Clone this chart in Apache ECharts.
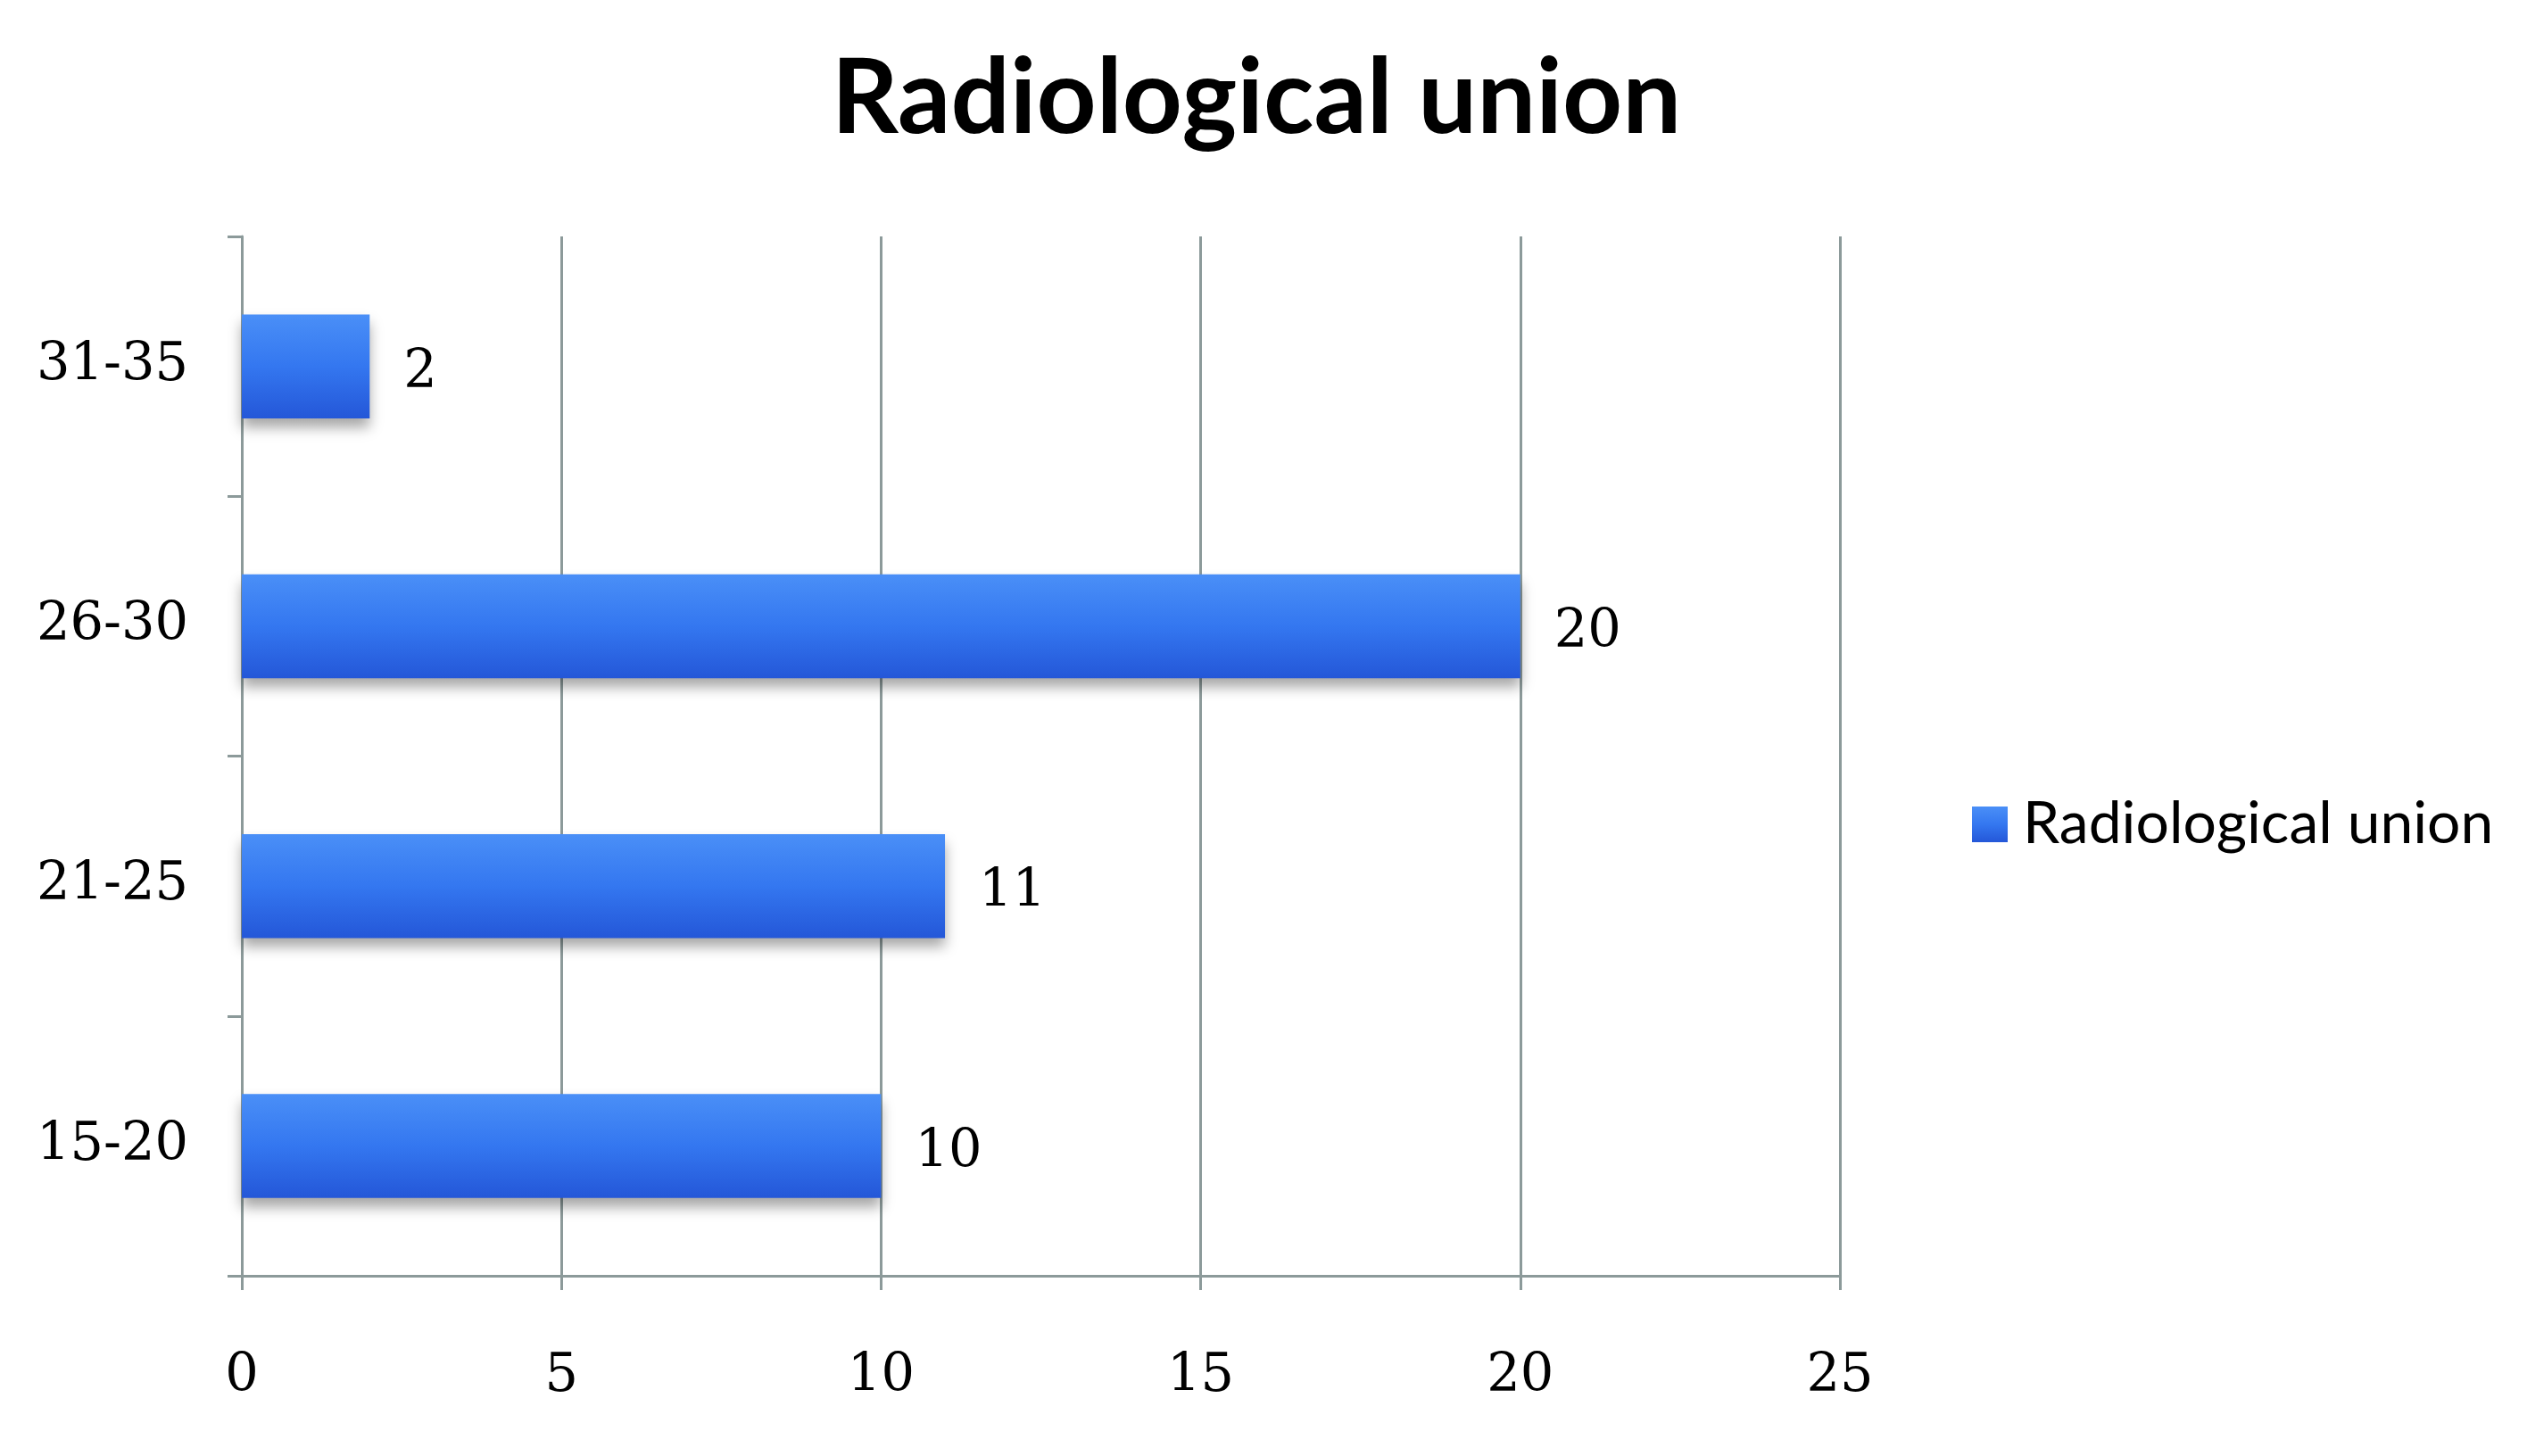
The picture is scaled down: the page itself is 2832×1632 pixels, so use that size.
<!DOCTYPE html>
<html>
<head>
<meta charset="utf-8">
<script src="https://cdn.jsdelivr.net/npm/echarts@6/dist/echarts.min.js"></script>
<style>html,body{margin:0;padding:0;background:#fff;}#c{width:2832px;height:1632px;}</style>
</head>
<body>
<div id="c"></div>
<script>
const titleText = "Radiological union";
const seriesName = "Radiological union";
const categories = ["15-20", "21-25", "26-30", "31-35"];
const values = [10, 11, 20, 2];
const xTicks = [0, 5, 10, 15, 20, 25];

const chart = echarts.init(document.getElementById('c'));
const gridColor = '#8c9a9a';
const serif = '"DejaVu Serif", "Liberation Serif", serif';
chart.setOption({
  backgroundColor: '#ffffff',
  animation: false,
  title: {
    text: titleText,
    left: 1403, top: 106, textAlign: 'center', textVerticalAlign: 'middle',
    textStyle: { fontFamily: 'Lato, "Open Sans", sans-serif', fontWeight: 'bold', fontSize: 117, color: '#000' }
  },
  legend: {
    left: 2205, top: 886, orient: 'vertical',
    itemWidth: 40, itemHeight: 40, itemGap: 10,
    textStyle: { fontFamily: 'Lato, sans-serif', fontSize: 66, color: '#000', padding: [0,0,0,12] },
    data: [{ name: seriesName, icon: 'rect' }]
  },
  grid: { left: 271, right: 770, top: 265, bottom: 202, containLabel: false },
  xAxis: {
    type: 'value', min: xTicks[0], max: xTicks[xTicks.length-1], interval: 5,
    axisLine: { show: true, lineStyle: { color: gridColor, width: 3 } },
    axisTick: { show: true, length: 16, lineStyle: { color: gridColor, width: 3 } },
    splitLine: { show: true, lineStyle: { color: gridColor, width: 3 } },
    axisLabel: { margin: 84, fontFamily: serif, fontSize: 59, color: '#000' }
  },
  yAxis: {
    type: 'category', data: categories,
    axisLine: { show: true, lineStyle: { color: gridColor, width: 3 } },
    axisTick: { show: true, length: 16, lineStyle: { color: gridColor, width: 3 } },
    axisLabel: { margin: 60, fontFamily: serif, fontSize: 59, color: '#000', padding: [20,0,0,0] }
  },
  series: [{
    name: seriesName, type: 'bar', data: values, barWidth: '40%',
    itemStyle: {
      color: new echarts.graphic.LinearGradient(0, 0, 0, 1, [
        { offset: 0, color: '#4a8ff7' },
        { offset: 0.5, color: '#3477f0' },
        { offset: 1, color: '#2457d8' }
      ]),
      shadowColor: 'rgba(0,0,0,0.35)', shadowBlur: 14, shadowOffsetY: 10
    },
    label: { show: true, position: 'right', distance: 38, offset: [0, 8], fontFamily: serif, fontSize: 59, color: '#000' }
  }]
});
</script>
</body>
</html>
